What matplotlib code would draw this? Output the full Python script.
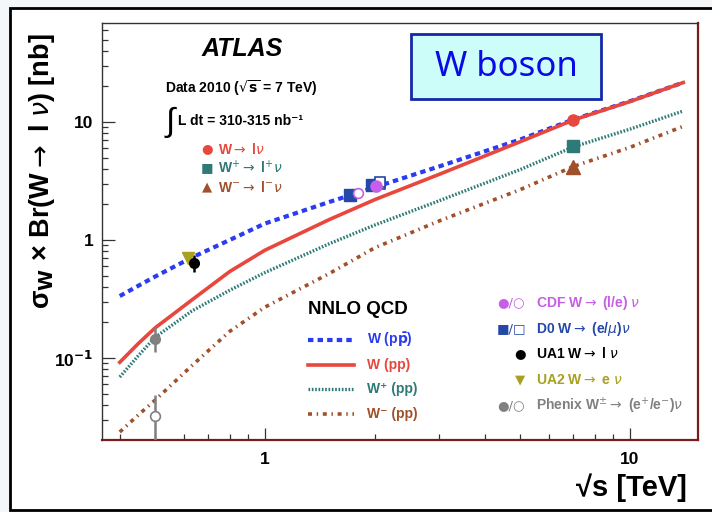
import matplotlib
matplotlib.use('Agg')
import matplotlib.pyplot as plt
from matplotlib.patches import Rectangle
from matplotlib.lines import Line2D
from matplotlib.ticker import FixedLocator, FixedFormatter, NullFormatter

plt.rcParams['font.family'] = ['Liberation Sans', 'DejaVu Sans']
plt.rcParams['mathtext.fontset'] = 'dejavusans'

# ---------------- data ----------------
rts_theory = [0.4, 0.45, 0.5, 0.63, 0.8, 1.0, 1.5, 2.0, 3.0, 5.0, 7.0, 10.0, 14.0]
w_ppbar   = [0.335, 0.41, 0.49, 0.71, 1.0, 1.38, 2.1, 2.8, 4.2, 7.1, 10.5, 15.0, 21.6]
w_pp      = [0.092, 0.133, 0.18, 0.31, 0.54, 0.82, 1.49, 2.2, 3.6, 6.8, 10.4, 14.9, 21.6]
wplus_pp  = [0.069, 0.105, 0.15, 0.25, 0.375, 0.53, 0.93, 1.34, 2.15, 3.95, 6.15, 8.7, 12.4]
wminus_pp = [0.0236, 0.033, 0.044, 0.086, 0.168, 0.27, 0.52, 0.86, 1.45, 2.67, 4.2, 6.1, 9.2]

# ATLAS 7 TeV
atlas_rts = [7.0]
atlas_w = [10.39]
atlas_w_err = [0.5]
atlas_wp = [6.26]
atlas_wp_err = [0.3]
atlas_wm = [4.14]
atlas_wm_err = [0.2]

# CDF (filled / open)
cdf_filled_rts = [2.01]
cdf_filled_val = [2.85]
cdf_open_rts = [1.80]
cdf_open_val = [2.52]
# D0 (filled / open)
d0_filled_rts = [1.71, 1.963]
d0_filled_val = [2.40, 2.95]
d0_open_rts = [2.066, 2.066]
d0_open_val = [2.98, 3.12]
# UA1 / UA2
ua1_rts = [0.639]
ua1_val = [0.64]
ua1_err_lo = [0.10]
ua1_err_hi = [0.11]
ua2_rts = [0.615]
ua2_val = [0.70]
# Phenix
phenix_rts = [0.5]
phenix_wp = [0.144]
phenix_wp_lo = [0.032]
phenix_wp_hi = [0.040]
phenix_wm = [0.032]
phenix_wm_lo = [0.022]
phenix_wm_hi = [0.017]

y_major = [0.1, 1, 10]
y_major_labels = [r'10$^{\mathbf{-1}}$', '1', '10']
x_major = [1, 10]
x_major_labels = ['1', '10']

# ---------------- figure ----------------
W, H = 712, 512
fig = plt.figure(figsize=(W / 100, H / 100), dpi=100)
fig.patch.set_facecolor('#f4f7f9')
frame = Rectangle((9.5 / W, (H - 510) / H), 1.2, (510 - 7.5) / H,
                  transform=fig.transFigure, facecolor='white',
                  edgecolor='black', lw=2.0, zorder=-5)
fig.add_artist(frame)

ax = fig.add_axes([102 / W, (H - 440) / H, (698 - 102) / W, (440 - 23) / H])
ax.set_zorder(2)
ax.set_facecolor('white')
ax.set_xscale('log')
ax.set_yscale('log')
ax.set_xlim(0.3576, 15.36)
ax.set_ylim(0.0202, 69)

for s in ['left', 'top']:
    ax.spines[s].set_color('#333333')
    ax.spines[s].set_linewidth(1.0)
for s in ['bottom', 'right']:
    ax.spines[s].set_color('#7a1c1c')
    ax.spines[s].set_linewidth(1.6)

ax.xaxis.set_major_locator(FixedLocator(x_major))
ax.xaxis.set_major_formatter(FixedFormatter(x_major_labels))
ax.xaxis.set_minor_locator(FixedLocator([0.4, 0.5, 0.6, 0.7, 0.8, 0.9, 2, 3, 4, 5, 6, 7, 8, 9]))
ax.xaxis.set_minor_formatter(NullFormatter())
ax.yaxis.set_major_locator(FixedLocator(y_major))
ax.yaxis.set_major_formatter(FixedFormatter(y_major_labels))
ax.yaxis.set_minor_locator(FixedLocator(
    [0.02, 0.03, 0.04, 0.05, 0.06, 0.07, 0.08, 0.09,
     0.2, 0.3, 0.4, 0.5, 0.6, 0.7, 0.8, 0.9,
     2, 3, 4, 5, 6, 7, 8, 9, 20, 30, 40, 50, 60]))
ax.yaxis.set_minor_formatter(NullFormatter())
ax.tick_params(which='both', direction='in', top=False, right=False,
               color='#333333', width=0.9)
ax.tick_params(which='major', length=9)
ax.tick_params(which='minor', length=4.5)
ax.tick_params(axis='x', which='major', pad=9, labelsize=12.5)
ax.tick_params(axis='y', which='major', pad=6, labelsize=12.5)
for lab in ax.get_xticklabels() + ax.get_yticklabels():
    lab.set_fontweight('bold')

c_blue = '#2a3cf0'
c_red = '#e8473d'
c_teal = '#2e7a76'
c_brown = '#a0502a'
c_cdf = '#c65ee8'
c_d0 = '#2448a8'
c_ua2 = '#a8a020'
c_phx = '#808080'

ls_blue = (0, (1.3, 1.0))
ls_teal = (0, (0.5, 0.5))
ls_brown = (0, (1.1, 1.3, 0.4, 1.3))

ax.plot(rts_theory, w_ppbar, color=c_blue, lw=3.0, ls=ls_blue, zorder=3)
ax.plot(rts_theory, w_pp, color=c_red, lw=2.6, ls='-', zorder=4)
ax.plot(rts_theory, wplus_pp, color=c_teal, lw=2.4, ls=ls_teal, zorder=3)
ax.plot(rts_theory, wminus_pp, color=c_brown, lw=2.6, ls=ls_brown, zorder=3)

# data points
ax.errorbar(atlas_rts, atlas_w, yerr=atlas_w_err, fmt='o', color=c_red, ms=8, elinewidth=1.5, capsize=0, zorder=6)
ax.errorbar(atlas_rts, atlas_wp, yerr=atlas_wp_err, fmt='s', color=c_teal, ms=8, elinewidth=1.5, capsize=0, zorder=6)
ax.errorbar(atlas_rts, atlas_wm, yerr=atlas_wm_err, fmt='^', color=c_brown, ms=10, elinewidth=1.5, capsize=0, zorder=6)

ax.plot(d0_filled_rts, d0_filled_val, 's', color=c_d0, ms=8, zorder=6)
ax.plot(d0_open_rts, d0_open_val, 's', mfc='white', mec=c_d0, mew=1.2, ms=7, zorder=6)
ax.plot(cdf_open_rts, cdf_open_val, 'o', mfc='white', mec=c_cdf, mew=1.2, ms=7, zorder=7)
ax.plot(cdf_filled_rts, cdf_filled_val, 'o', color=c_cdf, ms=8, zorder=7)

ax.errorbar(ua1_rts, ua1_val, yerr=[ua1_err_lo, ua1_err_hi], fmt='o', color='black', ms=7, elinewidth=1.8, capsize=0, zorder=6)
ax.plot(ua2_rts, ua2_val, 'v', color=c_ua2, ms=9, zorder=6)

ax.errorbar(phenix_rts, phenix_wp, yerr=[phenix_wp_lo, phenix_wp_hi], fmt='o', color=c_phx, ms=7, elinewidth=1.8, capsize=0, zorder=6)
ax.errorbar(phenix_rts, phenix_wm, yerr=[phenix_wm_lo, phenix_wm_hi], fmt='o', mfc='white', mec=c_phx, color=c_phx, mew=1.2, ms=7, elinewidth=1.8, capsize=0, zorder=6)

# ---------------- text ----------------
def fx(px):
    return (px - 102) / 596

def fy(py):
    return (440 - py) / 417

T = ax.transAxes
kw = dict(transform=T, clip_on=False)
ARR = r'$\rightarrow$'
ax.text(fx(242), fy(49), 'ATLAS', ha='center', va='center',
        fontsize=18, fontweight='bold', fontstyle='italic', **kw)
ax.text(fx(165), fy(88), r'Data 2010 ($\sqrt{\mathbf{s}}$ = 7 TeV)',
        ha='left', va='center', fontsize=10, fontweight='bold', **kw)
ax.text(fx(170), fy(122), '∫', ha='center', va='center', fontsize=24, **kw)
ax.text(fx(178), fy(121), 'L dt = 310-315 nb⁻¹',
        ha='left', va='center', fontsize=10, fontweight='bold', **kw)

atlas_leg = [('●', r'W$\rightarrow$ l$\nu$', c_red, 149),
             ('■', r'W$^{+}\rightarrow$ l$^{+}\nu$', c_teal, 168),
             ('▲', r'W$^{-}\rightarrow$ l$^{-}\nu$', c_brown, 187)]
for mk, txt, col, py in atlas_leg:
    ax.text(fx(207), fy(py), mk, ha='center', va='center', fontsize=9.5,
            color=col, family='DejaVu Sans', **kw)
    ax.text(fx(218), fy(py), txt, ha='left', va='center', fontsize=10,
            fontweight='bold', color=col, **kw)

# W boson box
ax.add_patch(Rectangle((fx(411), fy(99)), fx(601) - fx(411), fy(34) - fy(99),
                       transform=T, facecolor='#ccfdf8', edgecolor='#1428a8', lw=2.0, zorder=8))
ax.text(fx(506), fy(67), 'W boson', ha='center', va='center',
        fontsize=25, color='#0a0ae6', family='Noto Sans', zorder=9, **kw)

# NNLO QCD legend
ax.text(fx(308), fy(310), 'NNLO QCD', ha='left', va='center',
        fontsize=13.5, fontweight='bold', **kw)
theory_leg = [(c_blue, ls_blue, 3.0, r'W (p$\mathbf{\bar{p}}$)', 340),
              (c_red, '-', 2.6, 'W (pp)', 365),
              (c_teal, ls_teal, 2.4, 'W⁺ (pp)', 389),
              (c_brown, ls_brown, 2.6, 'W⁻ (pp)', 414)]
for col, ls, lw, txt, py in theory_leg:
    ax.add_line(Line2D([fx(308), fx(354)], [fy(py), fy(py)], transform=T,
                       color=col, ls=ls, lw=lw))
    ax.text(fx(367), fy(py), txt, ha='left', va='center',
            fontsize=10, fontweight='bold', color=col, **kw)

# experiments legend
exp_leg = [('●/○', r'CDF W$\rightarrow$ (l/e) $\nu$', c_cdf, 303, 511),
           ('■/□', r'D0 W$\rightarrow$ (e/$\mu$)$\nu$', c_d0, 329, 511),
           ('●', r'UA1 W$\rightarrow$ l $\nu$', 'black', 354, 520),
           ('▼', r'UA2 W$\rightarrow$ e $\nu$', c_ua2, 380, 520),
           ('●/○', r'Phenix W$^{\pm}\rightarrow$ (e$^{+}$/e$^{-}$)$\nu$', c_phx, 406, 511)]
for mk, txt, col, py, mx in exp_leg:
    ax.text(fx(mx), fy(py), mk, ha='center', va='center', fontsize=9.5,
            color=col, family='DejaVu Sans', **kw)
    ax.text(fx(536), fy(py), txt, ha='left', va='center',
            fontsize=10, fontweight='bold', color=col, **kw)

# axis labels
ax.text(fx(42), fy(171), r'σ$_{\mathbf{W}}$ × Br(W$\rightarrow$ l $\nu$) [nb]',
        rotation=90, ha='center', va='center', fontsize=19.5, fontweight='bold', **kw)
ax.text(fx(687), fy(488), '√s [TeV]', ha='right', va='center',
        fontsize=21, fontweight='bold', **kw)

fig.savefig('out.png', dpi=100, facecolor=fig.get_facecolor())
